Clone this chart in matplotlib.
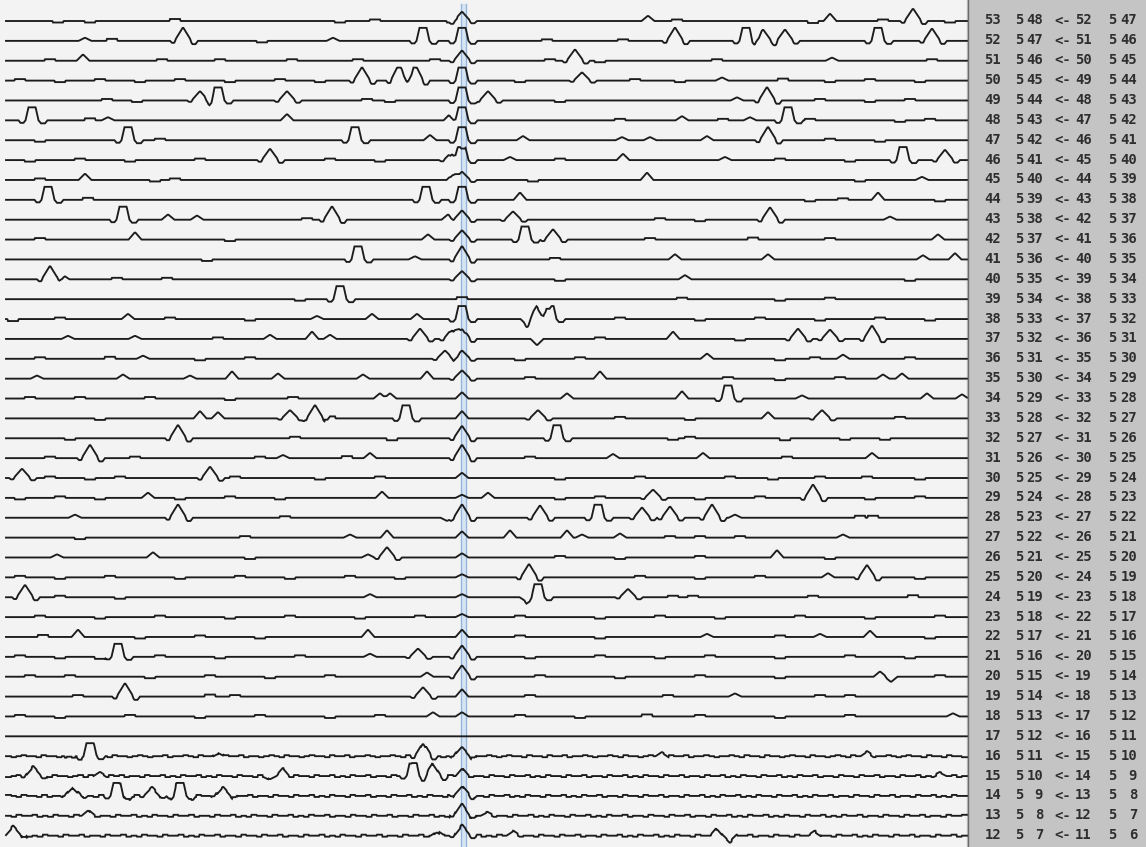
import numpy as np
import matplotlib
matplotlib.use("Agg")
import matplotlib.pyplot as plt

# ---------------- data (x position along the trace, amplitude in trace units) ----------------
row_ids = [53, 52, 51, 50, 49, 48, 47, 46, 45, 44, 43, 42, 41, 40, 39, 38, 37, 36, 35, 34, 33,
           32, 31, 30, 29, 28, 27, 26, 25, 24, 23, 22, 21, 20, 19, 18, 17, 16, 15, 14, 13, 12]

ev53 = [(58,-1.5),(90,-1.5),(175,2),(340,-1.5),(375,1.5),(452,-1.5),(462,9),(648,5),(677,1.5),(813,-2),(830,7),(883,1.5),(913,12),(950,-1.5)]
ev52 = [(85,3),(112,2),(183,13),(262,-1.5),(333,3),(423,30),(462,30),(547,1.5),(623,1.5),(675,13),(746,30),(763,11),(785,11),(878,30),(932,12)]
ev51 = [(50,1.5),(83,6),(162,1.5),(220,1.5),(292,1.5),(358,1.5),(435,1.5),(462,10),(550,1.5),(575,11),(600,-1.5),(717,1.5),(832,3),(932,1.5)]
ev50 = [(20,1.5),(60,-1.5),(100,1.5),(140,-1.5),(180,1.5),(230,-1.5),(280,1.5),(320,-1.5),(362,13),(399,16),(415,16),(462,30),(520,-1.5),(582,8),(635,1.5),(680,-1.5),(722,3),(783,2),(830,-1.5),(870,1.5),(920,-1.5)]
ev49 = [(107,1.5),(137,-1.5),(200,9),(218,30),(287,9),(367,1.5),(390,-1.5),(462,30),(488,9),(560,-1.5),(737,3),(767,13),(820,1.5),(870,-1.5),(910,1.5)]
ev48 = [(32,30),(90,2),(108,3),(287,6),(450,6),(462,30),(620,1.5),(682,4),(723,1.5),(750,3),(788,30),(810,1.5),(900,-1.5),(930,1.5)]
ev47 = [(40,-1.5),(128,30),(160,1.5),(355,30),(430,5),(462,30),(523,4),(622,3),(650,3),(707,4),(768,13),(830,1.5),(880,-1.5)]
ev46 = [(30,-1.5),(80,1.5),(130,-1.5),(200,1.5),(270,11),(330,1.5),(380,-1.5),(452,8),(462,30),(510,3),(560,1.5),(623,6),(725,3),(780,1.5),(850,-1.5),(903,30),(945,10)]
ev45 = [(40,1.5),(85,6),(155,-1.5),(175,1.5),(453,6),(462,8),(533,-1.5),(647,7),(860,-1.5),(922,3)]
ev44 = [(48,30),(88,2),(426,30),(462,30),(520,7),(810,-1.5),(843,1.5),(878,7),(940,-1.5)]
ev43 = [(123,30),(168,5),(197,4),(307,1.5),(332,13),(448,5),(462,9),(513,8),(660,1.5),(700,-1.5),(770,12),(890,3)]
ev42 = [(40,1.5),(135,7),(230,-1.5),(428,5),(462,9),(525,30),(553,10),(650,1.5),(753,2),(830,1.5),(938,5)]
ev41 = [(207,-1.5),(358,30),(415,3),(462,13),(555,1.5),(675,5),(768,5),(923,4),(955,6)]
ev40 = [(50,13),(63,4),(117,1.5),(167,1.5),(462,8),(560,-1.5),(685,4),(910,-1.5)]
ev39 = [(300,-1.5),(340,30),(462,2),(682,1.5),(780,-1.5),(830,1.5)]
ev38 = [(13,-2),(60,1.5),(128,5),(170,1.5),(250,-1.5),(317,3),(372,5),(417,5),(462,30),(527,-6),(537,13),(550,30),(620,1.5),(700,-1.5),(760,1.5),(820,-1.5),(880,1.5),(930,-1.5)]
ev37 = [(68,3),(135,3),(218,1.5),(270,4),(312,7),(330,4),(420,10),(452,10),(462,12),(537,-6),(600,1.5),(673,7),(740,-1.5),(798,10),(830,9),(872,13)]
ev36 = [(40,1.5),(110,2),(143,3),(200,-1.5),(250,1.5),(445,8),(462,8),(520,-1.5),(580,1.5),(707,5),(780,-1.5),(815,1.5),(843,4),(910,1.5)]
ev35 = [(37,3),(123,4),(190,3),(232,7),(278,5),(363,4),(427,7),(462,8),(530,1.5),(600,7),(728,1.5),(780,-1.5),(840,1.5),(883,4),(902,5)]
ev34 = [(30,1.5),(80,1.5),(150,1.5),(230,-1.5),(293,1.5),(380,5),(390,5),(462,6),(567,5),(682,7),(728,30),(802,3),(927,5),(962,4)]
ev33 = [(100,-1.5),(200,7),(218,6),(290,8),(315,13),(330,2),(406,30),(462,7),(538,8),(620,1.5),(690,-1.5),(768,6),(822,8),(900,1.5)]
ev32 = [(70,-1.5),(178,13),(295,1.5),(392,-2),(462,12),(557,30),(673,-1.5),(690,1.5),(785,-2),(845,-1.5),(885,-1.5)]
ev31 = [(50,1.5),(90,13),(135,1.5),(260,1.5),(283,3),(347,2),(370,5),(462,13),(530,1.5),(613,4),(703,5),(787,1.5),(872,5)]
ev30 = [(22,9),(50,1.5),(90,-1.5),(120,1.5),(210,11),(235,1.5),(320,-1.5),(380,1.5),(462,5),(560,-1.5),(640,1.5),(730,1.5),(773,-1.5),(820,1.5),(867,1.5),(920,-1.5)]
ev29 = [(20,-1.5),(60,1.5),(100,-1.5),(148,5),(180,-1.5),(230,1.5),(280,-1.5),(382,6),(462,3),(488,5),(560,-1.5),(600,1.5),(653,8),(700,-1.5),(760,1.5),(813,13),(870,-1.5),(920,1.5)]
ev28 = [(75,3),(178,13),(285,1.5),(447,-3),(462,13),(540,12),(598,30),(642,10),(670,11),(712,13),(735,3),(860,2),(873,2)]
ev27 = [(80,-1.5),(245,1.5),(350,3),(387,7),(462,6),(510,7),(567,7),(582,3),(620,4),(670,1.5),(700,1.5),(740,1.5),(843,3)]
ev26 = [(57,3),(153,5),(250,-1.5),(368,3),(387,10),(462,4),(560,1.5),(620,-1.5),(700,1.5),(777,7),(830,-1.5)]
ev25 = [(20,1.5),(60,-1.5),(110,1.5),(180,-1.5),(240,1.5),(290,-1.5),(350,1.5),(400,-1.5),(462,3),(529,13),(640,1.5),(700,-1.5),(760,1.5),(828,4),(867,12),(920,-1.5)]
ev24 = [(25,12),(60,1.5),(120,-1.5),(370,3),(462,3),(526,-4),(538,30),(628,8),(673,1.5),(693,1.5),(813,1.5),(913,2)]
ev23 = [(40,1.5),(100,-1.5),(160,1.5),(230,-1.5),(290,1.5),(360,-1.5),(420,1.5),(462,3),(520,1.5),(600,-1.5),(660,1.5),(720,-1.5),(800,1.5),(870,-1.5),(940,1.5)]
ev22 = [(43,2),(78,7),(140,-1.5),(200,1.5),(260,-1.5),(368,7),(462,7),(520,1.5),(600,-1.5),(707,3),(780,1.5),(820,3),(870,6),(930,-1.5)]
ev21 = [(20,1.5),(60,-1.5),(100,-2),(118,30),(160,1.5),(220,-1.5),(300,1.5),(370,3),(418,8),(462,11),(530,-1.5),(600,1.5),(660,-1.5),(710,1.5),(780,-1.5),(850,1.5),(910,-1.5)]
ev20 = [(30,1.5),(70,1.5),(150,-1.5),(210,1.5),(270,-1.5),(330,1.5),(427,4),(462,11),(540,1.5),(620,-1.5),(700,1.5),(780,-1.5),(880,5),(891,-5),(940,1.5)]
ev19 = [(78,1.5),(125,13),(210,2),(235,1.5),(423,9),(462,7),(530,1.5),(668,1.5),(735,3),(820,1.5),(850,1.5)]
ev18 = [(20,1.5),(60,-1.5),(130,1.5),(200,-1.5),(260,1.5),(330,-1.5),(380,1.5),(433,4),(462,4),(520,1.5),(580,-1.5),(647,2),(700,1.5),(780,-1.5),(850,1.5),(953,3)]
ev17 = []
ev16 = [(70,-1.5),(90,30),(218,3),(423,13),(462,9),(662,4),(867,4)]
ev15 = [(33,9),(100,4),(270,-3),(283,7),(413,30),(433,12),(462,7),(940,3)]
ev14 = [(73,8),(117,30),(152,8),(180,30),(223,9),(462,9)]
ev13 = [(88,5),(462,12),(487,3)]
ev12 = [(13,9),(437,4),(462,10),(513,4),(717,7),(730,-6),(815,4)]

# fine jitter levels (2 = baseline) for the noisy bottom traces, read left to right
jit16 = "2123221322123212232213221232122312232132212322312212321322123221322312232122321322132212322132232123221322132231223212232132212322132231223212232132213221232213221232132231223212322132213221"
jit15 = "1232132213221231322132312213223121322312132213221312232132213223121322312213221322312132231221322132231213221322312213223121322132231221322312132213223121322312213221322312213223121322312"
jit14 = "3213221312232132213223121322312213221322312132231221322132231213221322312213223121322132231221322312132213223121322312213221322312213223121322312132213223121322312213221322312213223121322"
jit13 = "2132231213221322312213223121322132231221322312132213223121322312213221322312213223121322132231221322312132213223121322312213221322312213223121322312132213223121322312213221322312213223"
jit12 = "1323121322132231221322312132213223121322312213221322312213223121322132231221322312132213223121322312213221322312213223121322312132213223121322312213221322312213223121322132231221322312"

events = [ev53, ev52, ev51, ev50, ev49, ev48, ev47, ev46, ev45, ev44, ev43, ev42, ev41, ev40, ev39,
          ev38, ev37, ev36, ev35, ev34, ev33, ev32, ev31, ev30, ev29, ev28, ev27, ev26, ev25, ev24,
          ev23, ev22, ev21, ev20, ev19, ev18, ev17, ev16, ev15, ev14, ev13, ev12]
jitter = {16: jit16, 15: jit15, 14: jit14, 13: jit13, 12: jit12}

# ---------------- layout ----------------
W, H = 1146, 847
PLOT_R = 967
X_START = 6
Y0, DY = 21.0, 19.87
CLIP = 13.0

fig = plt.figure(figsize=(W / 100, H / 100), dpi=100)
ax = fig.add_axes([0, 0, 1, 1])
ax.set_xlim(0, W)
ax.set_ylim(H, 0)
ax.axis("off")

ax.add_patch(plt.Rectangle((0, 0), PLOT_R, H, color="#f3f3f3", zorder=0))
ax.add_patch(plt.Rectangle((PLOT_R, 0), W - PLOT_R, H, color="#c4c4c4", zorder=0))
ax.plot([PLOT_R + 0.5, PLOT_R + 0.5], [0, H], color="#6a6a6a", lw=1.0, zorder=3)

# blue marker line
ax.add_patch(plt.Rectangle((460.8, 4), 4.8, H, color="#d6e4f4", zorder=1))
ax.plot([461, 461], [4, H], color="#93b3da", lw=0.9, zorder=1)
ax.plot([465.5, 465.5], [4, H], color="#93b3da", lw=0.9, zorder=1)

xs = np.arange(X_START, PLOT_R + 0.5, 0.5)


def trap(c, top_half, ramp, h):
    d = np.abs(xs - c)
    v = np.where(d <= top_half, 1.0, np.clip(1 - (d - top_half) / ramp, 0, 1))
    return h * v


for i, (rid, evs) in enumerate(zip(row_ids, events)):
    base = Y0 + DY * i
    sig = np.zeros_like(xs)
    for c, a in evs:
        if a >= 20:
            sig += trap(c, 3.5, 3.0, CLIP + 0.5)
            sig += trap(c - 10, 1.5, 2, -2.5)
            sig += trap(c + 11, 2.0, 2.5, -3.0)
        elif abs(a) <= 2.5:
            sig += trap(c, 5, 0.6, a)
        else:
            w = 8 if abs(a) >= 8 else 6
            sig += trap(c, 0.4, w, a)
            if a >= 8:
                sig += trap(c - w - 2, 1.0, 2, -0.15 * a)
                sig += trap(c + w + 3, 1.5, 2.5, -0.25 * a)
    if rid in jitter:
        s = jitter[rid]
        step = (PLOT_R - X_START) / len(s)
        idx = np.minimum(((xs - X_START) / step).astype(int), len(s) - 1)
        lv = np.array([int(ch) - 2 for ch in s], dtype=float)
        sig += lv[idx] * 1.0
    sig = np.minimum(sig, CLIP)
    ax.plot(xs, base - sig, color="#1c1c1c", lw=1.35, zorder=2,
            solid_joinstyle="miter")

# right-hand panel text
col_right = [1001, 1023, 1043, None, 1092, 1116, 1137]
arrow_left = 1054
for i, rid in enumerate(row_ids):
    y = Y0 + DY * i - 0.5
    fields = [str(rid), "5", str(rid - 5), "<-", str(rid - 1), "5", str(rid - 6)]
    for f, xr in zip(fields, col_right):
        kw = dict(va="center", color="#2e2e2e", fontsize=10, fontweight="bold",
                  family=["Liberation Sans Narrow", "DejaVu Sans Mono"], zorder=4)
        if xr is None:
            ax.text(arrow_left, y, f, ha="left", **kw)
        else:
            ax.text(xr, y, f, ha="right", **kw)

fig.savefig("out.png", dpi=100)
